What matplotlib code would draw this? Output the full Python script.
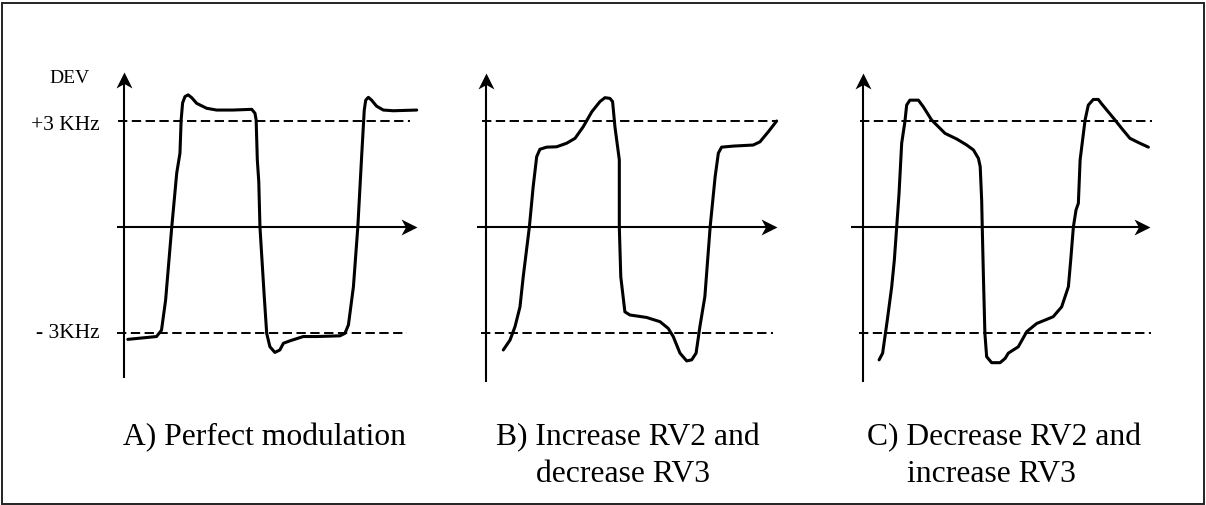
import matplotlib
matplotlib.use("Agg")
import matplotlib.pyplot as plt
from matplotlib.patches import Rectangle
from matplotlib.path import Path

plt.rcParams['font.family'] = ['Liberation Serif', 'DejaVu Serif']

# time axis runs 0..10, deviation in kHz
t_a = [0.13, 1.11, 1.28, 1.42, 1.63, 1.80, 1.91, 1.95, 2.00, 2.08, 2.19, 2.31, 2.48, 2.82,
       3.16, 3.72, 4.36, 4.47, 4.51, 4.55, 4.60, 4.64, 4.78, 4.87, 4.98, 5.15, 5.32, 5.44,
       5.67, 6.12, 6.58, 7.37, 7.54, 7.66, 7.83, 7.98, 8.11, 8.20, 8.25, 8.34, 8.45, 8.62,
       8.85, 9.19, 9.99]
dev_a = [-3.18, -3.10, -2.92, -2.07, 0.00, 1.53, 2.09, 3.03, 3.51, 3.69, 3.74, 3.66, 3.50, 3.36,
         3.31, 3.31, 3.33, 3.22, 3.03, 1.90, 1.28, 0.00, -1.88, -3.01, -3.39, -3.55, -3.48, -3.29,
         -3.22, -3.10, -3.10, -3.08, -3.01, -2.77, -1.69, 0.00, 1.99, 3.31, 3.59, 3.67, 3.59, 3.42,
         3.31, 3.29, 3.31]

t_b = [0.59, 0.82, 0.99, 1.16, 1.27, 1.48, 1.61, 1.73, 1.84, 2.07, 2.41, 2.75, 3.04, 3.32,
       3.61, 3.89, 4.06, 4.23, 4.32, 4.40, 4.55, 4.55, 4.60, 4.74, 4.91, 5.48, 5.94, 6.22,
       6.39, 6.62, 6.85, 7.02, 7.17, 7.30, 7.47, 7.65, 7.82, 7.93, 8.04, 8.44, 9.12, 9.35,
       9.64, 9.92]
dev_b = [-3.48, -3.20, -2.82, -2.26, -1.41, 0.00, 1.14, 1.99, 2.20, 2.26, 2.27, 2.37, 2.51, 2.84,
         3.26, 3.55, 3.66, 3.64, 3.55, 2.84, 1.90, 0.00, -1.41, -2.40, -2.49, -2.56, -2.68, -2.87,
         -3.10, -3.57, -3.79, -3.76, -3.57, -2.82, -1.97, 0.00, 1.42, 2.09, 2.26, 2.29, 2.32, 2.41,
         2.70, 3.00]

t_c = [0.55, 0.67, 0.83, 0.98, 1.07, 1.15, 1.23, 1.32, 1.43, 1.49, 1.60, 1.89, 2.06, 2.34,
       2.80, 3.20, 3.54, 3.77, 3.94, 4.00, 4.05, 4.07, 4.11, 4.16, 4.22, 4.39, 4.68, 4.85,
       4.96, 5.30, 5.59, 5.93, 6.49, 6.78, 7.01, 7.09, 7.18, 7.27, 7.35, 7.41, 7.58, 7.69,
       7.86, 8.03, 8.15, 8.32, 8.60, 8.83, 9.11, 9.40, 9.74]
dev_c = [-3.76, -3.57, -2.63, -1.69, -0.93, 0.00, 0.95, 2.37, 2.98, 3.45, 3.59, 3.59, 3.40, 3.03,
         2.65, 2.49, 2.32, 2.18, 1.94, 1.71, 0.76, 0.00, -1.41, -3.01, -3.67, -3.84, -3.84, -3.72,
         -3.57, -3.39, -2.96, -2.73, -2.54, -2.26, -1.69, -0.93, 0.00, 0.48, 0.67, 1.90, 3.03, 3.45,
         3.61, 3.61, 3.48, 3.31, 3.03, 2.79, 2.51, 2.39, 2.26]

levels = [3, -3]
level_labels = ["+3 KHz", "- 3KHz"]
captions = [("A) Perfect modulation", ""),
            ("B) Increase RV2 and", "decrease RV3"),
            ("C) Decrease RV2 and", "increase RV3")]

W, H = 1206, 505
SX, SY = 29.3, 106 / 3.0          # pixels per time unit / per kHz
origins = [(124, 227), (486, 227), (863, 227)]
xaxis_ends = [(-0.24, 10.0), (-0.31, 9.93), (-0.41, 9.80)]
yaxis_ends = [(-4.27, 4.39), (-4.39, 4.36), (-4.39, 4.36)]
dash_ends = [[(-0.2, 9.76), (-0.24, 9.66)],
             [(-0.14, 9.93), (-0.17, 9.80)],
             [(-0.1, 9.86), (-0.14, 9.83)]]
caption_pos = [(123, 533), (496, 536), (867, 907)]

# notched arrow heads, tip sits on (0, 0)
head_right = Path([(0, 0), (-1, 0.5), (-0.72, 0), (-1, -0.5), (0, 0)],
                  [Path.MOVETO, Path.LINETO, Path.LINETO, Path.LINETO, Path.CLOSEPOLY])
head_up = Path([(0, 0), (-0.5, -1), (0, -0.72), (0.5, -1), (0, 0)],
               [Path.MOVETO, Path.LINETO, Path.LINETO, Path.LINETO, Path.CLOSEPOLY])

fig = plt.figure(figsize=(W / 100, H / 100), dpi=100)
fig.patches.append(Rectangle((1.5 / W, 1.5 / H), (W - 4) / W, (H - 4) / H,
                             transform=fig.transFigure, fill=False,
                             edgecolor="#222222", lw=1.4))

XL, YL = (-1.0, 10.5), (-4.8, 4.8)
series = [(t_a, dev_a), (t_b, dev_b), (t_c, dev_c)]
for i, (t, dev) in enumerate(series):
    ox, oy = origins[i]
    left = (ox + XL[0] * SX) / W
    bottom = (H - (oy - YL[0] * SY)) / H
    ax = fig.add_axes([left, bottom, (XL[1] - XL[0]) * SX / W, (YL[1] - YL[0]) * SY / H])
    ax.set_xlim(*XL)
    ax.set_ylim(*YL)
    ax.axis("off")

    x0, x1 = xaxis_ends[i]
    y0, y1 = yaxis_ends[i]
    ax.plot([x0, x1 - 0.2], [0, 0], color="black", lw=1.5, solid_capstyle="butt")
    ax.plot([0, 0], [y0, y1 - 0.2], color="black", lw=1.5, solid_capstyle="butt")
    ax.plot([x1], [0], marker=head_right, markersize=23, color="black", mew=0)
    ax.plot([0], [y1], marker=head_up, markersize=23, color="black", mew=0)

    for lv, (d0, d1) in zip(levels, dash_ends[i]):
        ax.plot([d0, d1], [lv, lv], color="black", lw=1.4, linestyle=(0, (4.8, 2.3)))

    ax.plot(t, dev, color="black", lw=2.2, solid_joinstyle="round", solid_capstyle="round")

    if i == 0:
        ax.text(-2.56, 4.08, "DEV", fontsize=14, ha="left", va="baseline")
        ax.text(-0.82, 2.75, level_labels[0], fontsize=15.5, ha="right", va="baseline")
        ax.text(-0.82, -3.14, level_labels[1], fontsize=15.5, ha="right", va="baseline")

    c1, c2 = caption_pos[i]
    fig.text(c1 / W, 1 - 445 / H, captions[i][0], fontsize=22.8, ha="left", va="baseline")
    if captions[i][1]:
        fig.text(c2 / W, 1 - 482 / H, captions[i][1], fontsize=22.8, ha="left", va="baseline")

fig.savefig("out.png", dpi=100)
